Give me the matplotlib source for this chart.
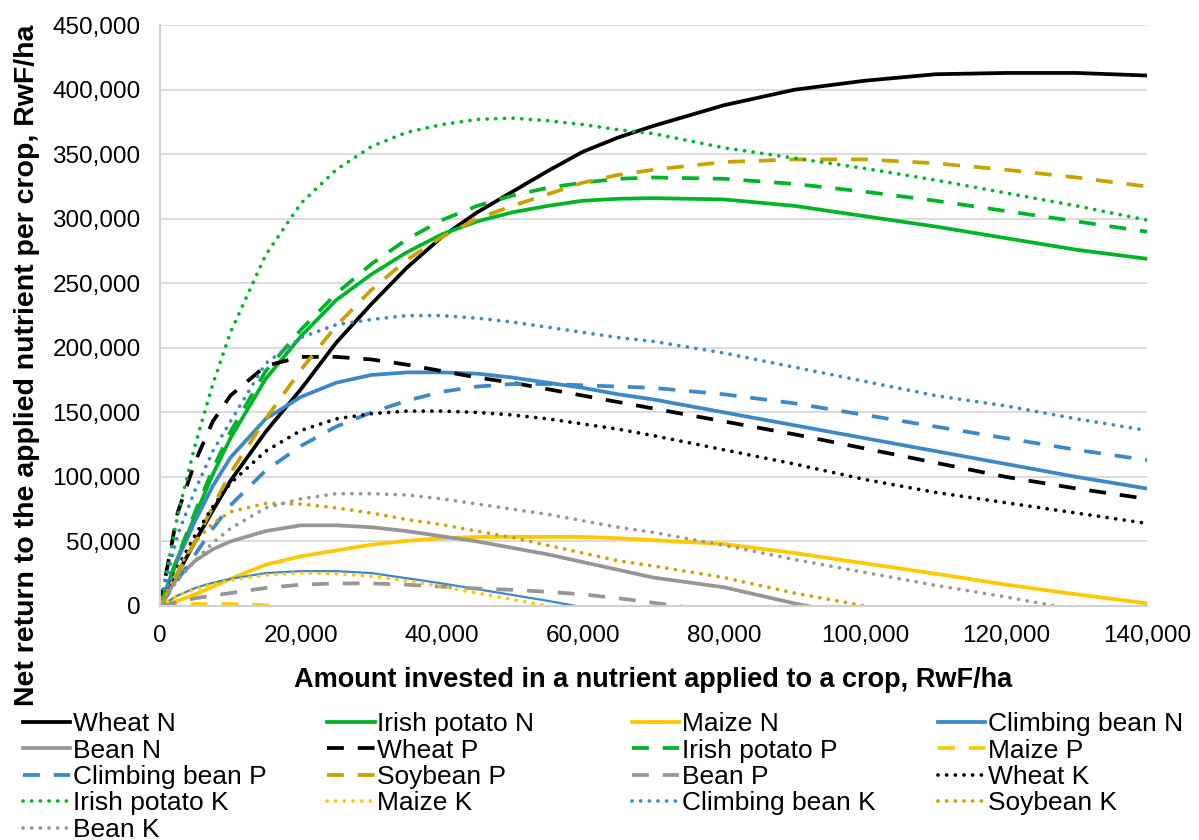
import matplotlib
matplotlib.use("Agg")
import matplotlib.pyplot as plt
import numpy as np
from matplotlib.ticker import FuncFormatter, MultipleLocator

plt.rcParams['font.family'] = ['Liberation Sans', 'DejaVu Sans']

# amount invested, RwF/ha
invest = [0, 2500, 5000, 7500, 10000, 15000, 20000, 25000, 30000, 35000, 40000,
          45000, 50000, 55000, 60000, 65000, 70000, 80000, 90000, 100000, 110000,
          120000, 130000, 140000]

# net returns in thousand RwF/ha (NaN = not drawn)
wheat_n = [0, 25, 50, 74, 97, 135, 168, 204, 234, 262, 286, 305, 321, 337, 352, 363, 372, 388, 400, 407, 412, 413, 413, 411]
potato_n = [0, 37, 70, 102, 130, 176, 209, 237, 257, 274, 288, 298, 305, 310, 314, 315.5, 316, 315, 310, 302, 294, 285, 276, 269]
maize_n = [0, 4, 9, 15, 21, 32, 38.5, 43, 47.5, 50.5, 52.5, 53.5, 53.5, 53.5, 53.5, 52.5, 51, 48, 41, 33, 25, 16.5, 9, 2]
cbean_n = [0, 36, 66, 93, 115, 145, 162, 173, 179, 181, 181, 180, 177, 173, 169, 164, 160, 150, 140, 130, 120, 110, 100, 91]
extra_blue = [0, 8, 14, 18, 21, 25.5, 27, 27, 25.5, 21.5, 17.5, 13, 8.5, 4, -1, -6, -11, np.nan, np.nan, np.nan, np.nan, np.nan, np.nan, np.nan]
bean_n = [0, 22, 35, 44, 50, 58, 62.5, 62.5, 61, 58, 54, 50, 45, 40, 34, 28, 22, 14.5, 2, -9, -20, -31, -42, -53]

wheat_p = [0, 72, 112, 143, 163, 186, 193, 193, 191, 187, 182, 177, 173, 168, 163, 158, 153, 143, 133, 122, 111, 100, 91, 83]
potato_p = [0, 38, 73, 106, 135, 182, 214, 242, 265, 284, 299, 310, 318, 324, 328, 331, 332, 331, 327, 321, 314, 306, 298, 290]
maize_p = [0, 1, 1.5, 1.5, 1.5, 0.5, -2, -4, -7, -10, -13, np.nan, np.nan, np.nan, np.nan, np.nan, np.nan, np.nan, np.nan, np.nan, np.nan, np.nan, np.nan, np.nan]
cbean_p = [0, 20, 40, 60, 78, 105, 124, 139, 150, 159, 166, 170, 172, 172, 171, 170, 169, 164, 157, 148, 139, 130, 121, 113]
soy_p = [0, 25, 50, 77, 103, 145, 183, 217, 245, 268, 286, 300, 310, 319, 328, 334, 338, 344, 346, 346, 343, 338, 332, 325]
bean_p = [0, 3, 6, 8, 10, 14, 16.5, 17.5, 17.5, 16.5, 15, 13.5, 12.5, 11, 9, 6, 2.5, -5, -12, np.nan, np.nan, np.nan, np.nan, np.nan]

wheat_k = [0, 30, 55, 77, 95, 120, 136, 145, 149, 151, 151, 150, 148, 145, 141, 137, 132, 121, 110, 98, 88, 80, 72, 64]
potato_k = [0, 70, 125, 172, 212, 272, 312, 338, 356, 367, 373, 377, 378, 376, 373, 369, 366, 355, 347, 339, 330, 320, 310, 299]
maize_k = [0, 8, 13, 17, 20, 24, 25.5, 25, 23, 19.5, 15, 10, 5, 0, -5, -10, np.nan, np.nan, np.nan, np.nan, np.nan, np.nan, np.nan, np.nan]
cbean_k = [0, 55, 90, 120, 143, 188, 208, 218, 222, 225, 225, 223, 220, 216, 212, 208, 205, 196, 185, 174, 163, 155, 145, 136]
soy_k = [0, 28, 50, 64, 73, 79.5, 79, 76, 72, 67, 63, 58, 53, 47, 41, 35, 31, 22, 10, 0, -10, -20, -30, -40]
bean_k = [0, 20, 35, 49, 60, 76, 83, 87, 87, 86, 83, 79, 75, 71, 66, 61, 57, 47, 36, 26, 16, 7, -3, -13]

black = '#000000'
green = '#00B42A'
yellow = '#FFC800'
blue = '#3D88C6'
grey = '#969696'
gold = '#C9A200'

solid = '-'
dashed = (0, (4.5, 3.7))
dotted = (0, (0.01, 2.3))

# (label, values, colour, style) in Excel series order
series = [
    ("Wheat N", wheat_n, black, solid),
    ("Irish potato N", potato_n, green, solid),
    ("Maize N", maize_n, yellow, solid),
    ("Climbing bean N", cbean_n, blue, solid),
    ("Bean N", bean_n, grey, solid),
    ("Wheat P", wheat_p, black, dashed),
    ("Irish potato P", potato_p, green, dashed),
    ("Maize P", maize_p, yellow, dashed),
    ("Climbing bean P", cbean_p, blue, dashed),
    ("Soybean P", soy_p, gold, dashed),
    ("Bean P", bean_p, grey, dashed),
    ("Wheat K", wheat_k, black, dotted),
    ("Irish potato K", potato_k, green, dotted),
    ("Maize K", maize_k, yellow, dotted),
    ("Climbing bean K", cbean_k, blue, dotted),
    ("Soybean K", soy_k, gold, dotted),
    ("Bean K", bean_k, grey, dotted),
]

fig = plt.figure(figsize=(11.99, 8.4), dpi=100)
ax = fig.add_axes([0.1334, 0.2786, 0.8232, 0.6914])

x = np.array(invest)
handles = []
for label, vals, col, ls in series:
    y = np.array(vals, dtype=float) * 1000
    ln, = ax.plot(x, y, color=col, linestyle=ls, lw=2.7,
                  dash_capstyle='round' if ls == dotted else 'butt',
                  solid_joinstyle='round', label=label)
    handles.append(ln)
    if label == "Climbing bean N":
        ax.plot(x, np.array(extra_blue) * 1000, color=blue, lw=1.6)

ax.set_xlim(0, 140000)
ax.set_ylim(0, 450000)
ax.xaxis.set_major_locator(MultipleLocator(20000))
ax.yaxis.set_major_locator(MultipleLocator(50000))
fmt = FuncFormatter(lambda v, p: f"{int(v):,}")
ax.xaxis.set_major_formatter(fmt)
ax.yaxis.set_major_formatter(fmt)
ax.grid(axis='y', color='#D9D9D9', lw=1.3)
ax.set_axisbelow(True)
for s in ['top', 'right']:
    ax.spines[s].set_visible(False)
for s in ['left', 'bottom']:
    ax.spines[s].set_color('#D0D0D0')
    ax.spines[s].set_linewidth(1.5)
ax.tick_params(length=0, labelsize=17.5)
ax.tick_params(axis='y', pad=14)
ax.tick_params(axis='x', pad=14)

ax.set_xlabel("Amount invested in a nutrient applied to a crop, RwF/ha",
              fontsize=19.5, fontweight='bold')
ax.set_ylabel("Net return to the applied nutrient per crop, RwF/ha",
              fontsize=20.5, fontweight='bold')
ax.xaxis.set_label_coords(0.5, -0.105)
ax.yaxis.set_label_coords(-0.122, 0.415)

# Excel fills the legend row by row, with equal column widths
col_x = [0.019, 0.273, 0.527, 0.782]
for c in range(4):
    idx = [i for i in range(len(handles)) if i % 4 == c]
    leg = fig.legend([handles[i] for i in idx], [series[i][0] for i in idx],
                     loc='upper left', bbox_to_anchor=(col_x[c], 0.152),
                     frameon=False, fontsize=19, handlelength=1.8,
                     handletextpad=0.1, labelspacing=0.09,
                     borderpad=0, borderaxespad=0)

fig.savefig("out.png", dpi=100)
